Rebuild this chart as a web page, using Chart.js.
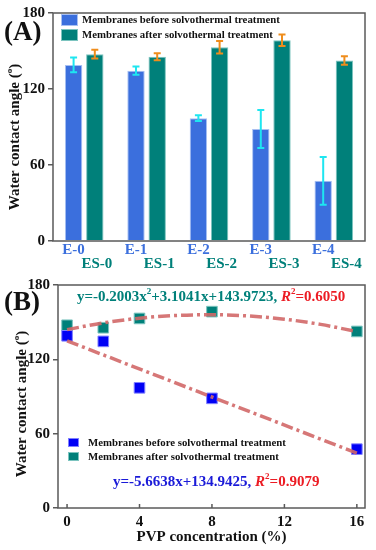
<!DOCTYPE html>
<html>
<head>
<meta charset="utf-8">
<script src="https://cdn.jsdelivr.net/npm/chart.js@4.4.0/dist/chart.umd.min.js"></script>
<style>
  html, body { margin:0; padding:0; background:#fff; }
  #wrap { position:relative; width:376px; height:550px; }
  #chartA { position:absolute; left:0; top:0; }
  #chartB { position:absolute; left:0; top:272px; }
</style>
</head>
<body>
<div id="wrap">
  <canvas id="chartA" width="376" height="272"></canvas>
  <canvas id="chartB" width="376" height="278"></canvas>
</div>
<script>
// ---- Data ----
const samples = ['E-0', 'E-1', 'E-2', 'E-3', 'E-4'];
const samplesS = ['ES-0', 'ES-1', 'ES-2', 'ES-3', 'ES-4'];
const pvp = [0, 2, 4, 8, 16];
const before = [139, 134.5, 97, 88.5, 47.5];
const beforeErr = [5.8, 3.3, 2.2, 15, 18.8];
const after = [147.5, 145.5, 153, 158.5, 142.5];
const afterErr = [3.5, 2.8, 4.9, 4.5, 3.4];
const yTicks = [0, 60, 120, 180];
const xTicksB = [0, 4, 8, 12, 16];
// fit curves
const fitQuadX = [0, 2, 4, 6, 8, 10, 12, 14, 16];
const fitQuadY = [144, 149.4, 153.2, 155.4, 156, 155, 152.4, 148.2, 142.4];
const fitLinX = [0, 16];
const fitLinY = [134.9, 44.3];

// ---- Styles ----
const SERIF = '"Liberation Serif", "Times New Roman", serif';
const BLUE = '#3b6fdd', TEAL = '#00807a', CYAN = '#1ee6f0', ORANGE = '#ef8d1c';
const PURE_BLUE = '#0000f5', FIT = 'rgba(210,104,104,0.9)', RED = '#ec1c24';
const EQ_BLUE = '#1a1ad8';

// ---- Helpers ----
function rich(ctx, parts, x, y, size, align){
  const fontOf = p => `${p.it ? 'italic ' : ''}bold ${p.sup ? Math.round(size*0.62) : size}px ${SERIF}`;
  let w = 0;
  parts.forEach(p => { ctx.font = fontOf(p); w += ctx.measureText(p.t).width; });
  let cx = align === 'center' ? x - w/2 : x;
  ctx.textAlign = 'left';
  ctx.textBaseline = 'middle';
  parts.forEach(p => {
    ctx.font = fontOf(p);
    ctx.fillStyle = p.c || '#111';
    ctx.fillText(p.t, cx, p.sup ? y - size*0.36 : y);
    cx += ctx.measureText(p.t).width;
  });
}

function yTitle(ctx, cx, cy){
  ctx.save();
  ctx.translate(cx, cy);
  ctx.rotate(-Math.PI/2);
  rich(ctx, [{t:'Water contact angle ('}, {t:'o', sup:true}, {t:')'}], 0, 0, 15, 'center');
  ctx.restore();
}

function legendBox(ctx, x, y, w, h, color, edge){
  ctx.fillStyle = color;
  ctx.fillRect(x, y, w, h);
  ctx.strokeStyle = edge;
  ctx.lineWidth = 1;
  ctx.strokeRect(x + .5, y + .5, w - 1, h - 1);
}

const frame = {
  id: 'frame',
  afterDraw(chart){
    const { ctx, chartArea: a } = chart;
    ctx.save();
    ctx.strokeStyle = '#5a5a5a';
    ctx.lineWidth = 1.5;
    ctx.strokeRect(a.left, a.top, a.right - a.left, a.bottom - a.top);
    ctx.restore();
  }
};

const errorBars = {
  id: 'errorBars',
  afterDatasetsDraw(chart){
    const ctx = chart.ctx, y = chart.scales.y;
    chart.data.datasets.forEach((ds, di) => {
      const meta = chart.getDatasetMeta(di);
      ds.errors.forEach((e, i) => {
        const bar = meta.data[i], v = ds.data[i];
        const top = y.getPixelForValue(v + e), bot = y.getPixelForValue(v - e);
        ctx.save();
        ctx.strokeStyle = ds.errColor;
        ctx.lineWidth = 2;
        ctx.beginPath();
        ctx.moveTo(bar.x, top); ctx.lineTo(bar.x, bot);
        ctx.moveTo(bar.x - 3.5, top); ctx.lineTo(bar.x + 3.5, top);
        ctx.moveTo(bar.x - 3.5, bot); ctx.lineTo(bar.x + 3.5, bot);
        ctx.stroke();
        ctx.restore();
      });
    });
  }
};

const panelA = {
  id: 'panelA',
  afterDraw(chart){
    const ctx = chart.ctx;
    ctx.save();
    // panel letter
    ctx.font = `bold 27px ${SERIF}`;
    ctx.fillStyle = '#111';
    ctx.textAlign = 'left';
    ctx.textBaseline = 'middle';
    ctx.fillText('(A)', 4, 33);
    yTitle(ctx, 15, 137);
    // legend
    legendBox(ctx, 61, 14, 17, 12, BLUE, '#a8c0f2');
    legendBox(ctx, 61, 29, 17, 12, TEAL, '#7cc4bf');
    ctx.font = `bold 10.8px ${SERIF}`;
    ctx.fillStyle = '#111';
    ctx.fillText('Membranes before solvothermal treatment', 82, 20.5);
    ctx.fillText('Membranes after solvothermal treatment', 82, 35);
    // two-row category labels
    const m0 = chart.getDatasetMeta(0), m1 = chart.getDatasetMeta(1);
    ctx.font = `bold 15px ${SERIF}`;
    ctx.textAlign = 'center';
    samples.forEach((s, i) => {
      ctx.fillStyle = BLUE;
      ctx.fillText(s, m0.data[i].x, 250);
      ctx.fillStyle = TEAL;
      ctx.fillText(samplesS[i], m1.data[i].x + 2, 264);
    });
    ctx.restore();
  }
};

const panelB = {
  id: 'panelB',
  afterDraw(chart){
    const ctx = chart.ctx, a = chart.chartArea, xs = chart.scales.x;
    ctx.save();
    // inward x ticks
    ctx.strokeStyle = '#5a5a5a';
    ctx.lineWidth = 1.5;
    ctx.beginPath();
    xTicksB.forEach(v => {
      const px = xs.getPixelForValue(v);
      ctx.moveTo(px, a.bottom); ctx.lineTo(px, a.bottom - 4);
    });
    ctx.stroke();
    ctx.font = `bold 27px ${SERIF}`;
    ctx.fillStyle = '#111';
    ctx.textAlign = 'left';
    ctx.textBaseline = 'middle';
    ctx.fillText('(B)', 4, 31);
    yTitle(ctx, 22, 132);
    // equations
    rich(ctx, [
      {t:'y=-0.2003x', c:TEAL}, {t:'2', c:TEAL, sup:true}, {t:'+3.1041x+143.9723, ', c:TEAL},
      {t:'R', c:RED, it:true}, {t:'2', c:RED, sup:true}, {t:'=0.6050', c:RED}
    ], 77, 25, 15, 'left');
    rich(ctx, [
      {t:'y=-5.6638x+134.9425, ', c:EQ_BLUE},
      {t:'R', c:RED, it:true}, {t:'2', c:RED, sup:true}, {t:'=0.9079', c:RED}
    ], 113, 210, 15, 'left');
    // legend
    legendBox(ctx, 68, 166, 11, 9, PURE_BLUE, '#8080ff');
    legendBox(ctx, 68, 180, 11, 9, TEAL, '#7cc4bf');
    ctx.font = `bold 10.8px ${SERIF}`;
    ctx.fillStyle = '#111';
    ctx.fillText('Membranes before solvothermal treatment', 88, 171);
    ctx.fillText('Membranes after solvothermal treatment', 88, 185);
    ctx.restore();
  }
};

const tickFont = { family: SERIF, size: 15, weight: 'bold' };

// ---- Panel A: bars ----
new Chart(document.getElementById('chartA'), {
  type: 'bar',
  data: {
    labels: samples,
    datasets: [
      { label: 'Membranes before solvothermal treatment', data: before, backgroundColor: BLUE,
        borderColor: '#a8c0f2', borderWidth: 1, errors: beforeErr, errColor: CYAN },
      { label: 'Membranes after solvothermal treatment', data: after, backgroundColor: TEAL,
        borderColor: '#7cc4bf', borderWidth: 1, errors: afterErr, errColor: ORANGE }
    ]
  },
  options: {
    responsive: false, animation: false, devicePixelRatio: 1,
    layout: { padding: { top: 13, right: 11, left: 0, bottom: 0 } },
    datasets: { bar: { categoryPercentage: 0.68, barPercentage: 0.82 } },
    plugins: { legend: { display: false }, tooltip: { enabled: false } },
    scales: {
      x: { ticks: { display: false }, grid: { display: false }, border: { display: false },
           afterFit(s){ s.height = 31; } },
      y: { min: 0, max: 180,
           afterBuildTicks(s){ s.ticks = yTicks.map(v => ({ value: v })); },
           ticks: { font: tickFont, color: '#111', padding: 3 },
           grid: { drawOnChartArea: false, tickLength: 5, color: '#5a5a5a', lineWidth: 1.5 },
           border: { display: false },
           afterFit(s){ s.width = 53; } }
    }
  },
  plugins: [frame, errorBars, panelA]
});

// ---- Panel B: scatter + fits ----
new Chart(document.getElementById('chartB'), {
  type: 'scatter',
  data: {
    datasets: [
      { type: 'line', label: 'quad fit', data: fitQuadX.map((x, i) => ({ x, y: fitQuadY[i] })),
        borderColor: FIT, borderWidth: 3.5, borderDash: [12, 4, 3, 4], pointRadius: 0,
        cubicInterpolationMode: 'monotone', fill: false, order: 0 },
      { type: 'line', label: 'linear fit', data: fitLinX.map((x, i) => ({ x, y: fitLinY[i] })),
        borderColor: FIT, borderWidth: 3.5, borderDash: [12, 4, 3, 4], pointRadius: 0,
        fill: false, order: 0 },
      { label: 'Membranes before solvothermal treatment', data: pvp.map((x, i) => ({ x, y: before[i] })),
        pointStyle: 'rect', pointRadius: 7.5, backgroundColor: PURE_BLUE, borderColor: '#8080ff',
        borderWidth: 1, order: 1 },
      { label: 'Membranes after solvothermal treatment', data: pvp.map((x, i) => ({ x, y: after[i] })),
        pointStyle: 'rect', pointRadius: 7.5, backgroundColor: TEAL, borderColor: '#7cc4bf',
        borderWidth: 1, order: 1 }
    ]
  },
  options: {
    responsive: false, animation: false, devicePixelRatio: 1,
    layout: { padding: { top: 13, right: 11, left: 0, bottom: 0 } },
    plugins: { legend: { display: false }, tooltip: { enabled: false } },
    scales: {
      x: { type: 'linear', min: -0.5, max: 16.45,
           afterBuildTicks(s){ s.ticks = xTicksB.map(v => ({ value: v })); },
           ticks: { font: tickFont, color: '#111', padding: 5 },
           grid: { display: false, drawTicks: false }, border: { display: false },
           title: { display: true, text: 'PVP concentration (%)', color: '#111',
                    font: { family: SERIF, size: 15, weight: 'bold' }, padding: { top: 0, bottom: 4 } },
           afterFit(s){ s.height = 42; } },
      y: { min: 0, max: 180,
           afterBuildTicks(s){ s.ticks = yTicks.map(v => ({ value: v })); },
           ticks: { font: tickFont, color: '#111', padding: 3 },
           grid: { drawOnChartArea: false, tickLength: 5, color: '#5a5a5a', lineWidth: 1.5 },
           border: { display: false },
           afterFit(s){ s.width = 58; } }
    }
  },
  plugins: [frame, panelB]
});
</script>
</body>
</html>
